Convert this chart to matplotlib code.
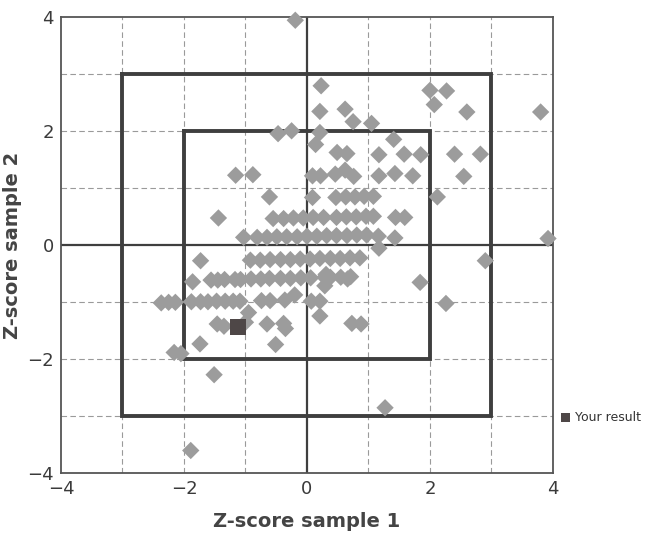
import matplotlib
matplotlib.use("Agg")
import matplotlib.pyplot as plt

# Population results (Z-score sample 1, Z-score sample 2)
pop_x = [
    -0.19, 0.23, 0.21, 0.62, 0.75, -0.47, -0.25, 0.21, 0.14, 0.49, 0.65,
    -1.16, -0.88, 0.09, 0.22, 0.46, 0.62, 0.76, 1.17, 1.43, 1.72, 2.55,
    -0.61, 0.09, 0.47, 0.63, 0.78, 0.93, 1.08, 2.12, -1.44,
    -0.55, -0.38, -0.22, -0.06, 0.10, 0.27, 0.48, 0.64, 0.80, 0.96, 1.08,
    1.44, 1.59, -1.03,
    -0.81, -0.65, -0.49, -0.33, -0.16, 0.00, 0.16, 0.32, 0.48, 0.65, 0.81, 0.97,
    1.16, 1.43, 1.17, 3.92,
    2.00, 2.27, 2.07, 2.60, 3.80, 1.05, 1.41, 1.17, 1.58, 1.85, 2.40, 2.82,
    2.90, 1.84, 2.26, 0.66, 0.73, 0.88, 0.21, 0.07, 0.21, 0.29, 0.31, 1.27,
    -1.89, -1.51, -2.16, -2.05, -1.74, -0.51, -1.46, -1.35, -1.00, -0.65, -0.38, -0.35,
    -2.37, -2.25, -2.14, -1.88, -1.73, -1.61, -1.47, -1.33, -1.20, -1.09, -0.74, -0.60, -0.36,
    -0.20, -0.95, -1.73, -1.86,
    -1.56, -1.45, -1.34, -1.17, -1.08, -0.91, -0.75, -0.61, -0.43, -0.27, -0.10, 0.06,
    0.29, 0.38, 0.55, 0.71,
    -0.92, -0.76, -0.60, -0.43, -0.27, -0.11, 0.05, 0.21, 0.38, 0.54, 0.70, 0.86,
]
pop_y = [
    3.95, 2.80, 2.35, 2.39, 2.17, 1.96, 2.01, 1.98, 1.77, 1.63, 1.61,
    1.23, 1.24, 1.22, 1.22, 1.25, 1.32, 1.21, 1.22, 1.26, 1.22, 1.21,
    0.85, 0.84, 0.84, 0.85, 0.85, 0.86, 0.86, 0.85, 0.48,
    0.47, 0.47, 0.48, 0.48, 0.49, 0.49, 0.49, 0.50, 0.50, 0.51, 0.51,
    0.49, 0.49, 0.14,
    0.14, 0.14, 0.15, 0.15, 0.15, 0.16, 0.16, 0.17, 0.17, 0.17, 0.18, 0.18,
    0.16, 0.13, -0.05, 0.12,
    2.72, 2.71, 2.47, 2.34, 2.34, 2.14, 1.86, 1.59, 1.60, 1.59, 1.60, 1.60,
    -0.27, -0.65, -1.02, -0.59, -1.37, -1.38, -1.24, -0.98, -0.98, -0.71, -0.51, -2.85,
    -3.60, -2.27, -1.88, -1.90, -1.73, -1.74, -1.38, -1.42, -1.35, -1.38, -1.37, -1.46,
    -1.01, -1.00, -1.00, -0.99, -0.99, -0.99, -0.98, -0.98, -0.98, -0.98, -0.97, -0.97, -0.96,
    -0.87, -1.18, -0.27, -0.64,
    -0.61, -0.61, -0.60, -0.60, -0.60, -0.59, -0.59, -0.58, -0.58, -0.58, -0.57, -0.57,
    -0.56, -0.56, -0.56, -0.55,
    -0.26, -0.26, -0.25, -0.25, -0.25, -0.24, -0.24, -0.23, -0.23, -0.23, -0.22, -0.22,
]

# Laboratory's own result
your_x = [-1.12]
your_y = [-1.44]

ticks = [-4, -2, 0, 2, 4]
grid_vals = [-3, -2, -1, 1, 2, 3]
inner_limit = 2
outer_limit = 3

fig = plt.figure(figsize=(6.63, 5.44), dpi=100)
ax = fig.add_axes([0.092, 0.130, 0.742, 0.838])

dark = "#3f3f3f"
for g in grid_vals:
    ax.axvline(g, color="#9a9a9a", lw=0.8, ls=(0, (5, 3)), zorder=1)
    ax.axhline(g, color="#9a9a9a", lw=0.8, ls=(0, (5, 3)), zorder=1)
ax.axvline(0, color=dark, lw=1.6, zorder=1)
ax.axhline(0, color=dark, lw=1.6, zorder=1)

for lim in (inner_limit, outer_limit):
    ax.plot([-lim, lim, lim, -lim, -lim], [lim, lim, -lim, -lim, lim],
            color=dark, lw=2.8, zorder=2, solid_joinstyle="miter")

ax.scatter(pop_x, pop_y, marker="D", s=78, color="#9c9c9c",
           edgecolors="none", zorder=3, clip_on=False)
ax.scatter(your_x, your_y, marker="s", s=130, color="#4e4747",
           edgecolors="none", zorder=4, label="Your result")

ax.set_xlim(-4, 4)
ax.set_ylim(-4, 4)
ax.set_xticks(ticks)
ax.set_yticks(ticks)
ax.tick_params(length=0, labelsize=13, colors="#3a3a3a", pad=5)
for s in ax.spines.values():
    s.set_color("#555555")
    s.set_linewidth(1.3)

ax.set_xlabel("Z-score sample 1", fontsize=14, fontweight="bold",
              color="#444444", labelpad=10)
ax.set_ylabel("Z-score sample 2", fontsize=14, fontweight="bold",
              color="#444444", labelpad=4)

ax.legend(loc="center left", bbox_to_anchor=(1.0, 0.123), frameon=False,
          fontsize=9, handletextpad=0.4, handlelength=0.8, borderaxespad=0.2,
          markerscale=0.55, labelcolor="#333333")

fig.savefig("out.png", dpi=100, facecolor="white")
